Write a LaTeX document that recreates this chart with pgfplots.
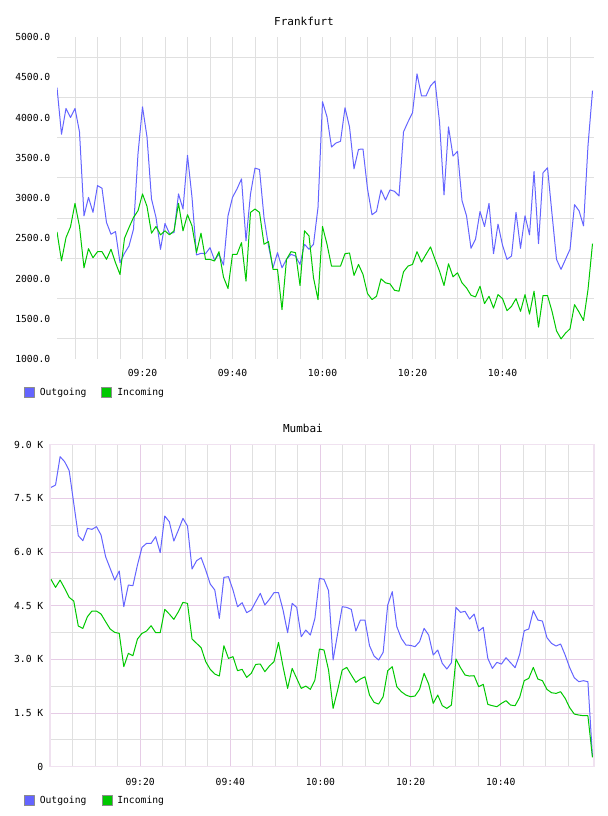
\documentclass[border=0pt]{standalone}
\usepackage{pgfplots}
\pgfplotsset{compat=1.18}
\usepackage{pgfplotstable}
\usepackage{fontspec}
\setmainfont{DejaVu Sans Mono}

\definecolor{outcol}{RGB}{100,100,255}
\definecolor{incol}{RGB}{0,200,0}
\definecolor{gridgray}{RGB}{224,224,224}
\definecolor{gridpink}{RGB}{230,204,230}
\definecolor{framepink}{RGB}{240,226,240}
\definecolor{boxgray}{RGB}{140,140,140}

% Frankfurt: one sample per minute, t = minutes after 09:00
\pgfplotstableread{
t v
1 4371
2 3792
3 4113
4 4000
5 4113
6 3821
7 2779
8 3008
9 2821
10 3154
11 3121
12 2696
13 2550
14 2583
15 2196
16 2313
17 2404
18 2613
19 3550
20 4133
21 3758
22 2988
23 2758
24 2363
25 2683
26 2558
27 2571
28 3050
29 2863
30 3529
31 3008
32 2292
33 2313
34 2308
35 2383
36 2229
37 2300
38 2167
39 2779
40 3008
41 3113
42 3238
43 2467
44 3050
45 3371
46 3354
47 2758
48 2404
49 2133
50 2321
51 2133
52 2238
53 2300
54 2279
55 2175
56 2425
57 2363
58 2425
59 2883
60 4196
61 4008
62 3633
63 3683
64 3704
65 4121
66 3883
67 3363
68 3604
69 3608
70 3113
71 2792
72 2833
73 3100
74 2975
75 3100
76 3083
77 3025
78 3821
79 3946
80 4058
81 4542
82 4267
83 4267
84 4392
85 4454
86 3946
87 3038
88 3883
89 3521
90 3579
91 2967
92 2779
93 2375
94 2488
95 2833
96 2646
97 2933
98 2308
99 2675
100 2413
101 2238
102 2279
103 2821
104 2375
105 2779
106 2542
107 3329
108 2433
109 3313
110 3375
111 2800
112 2238
113 2113
114 2238
115 2363
116 2917
117 2842
118 2654
119 3654
120 4333
}\fraOut

\pgfplotstableread{
t v
1 2579
2 2220
3 2508
4 2642
5 2933
6 2646
7 2133
8 2371
9 2258
10 2333
11 2333
12 2238
13 2363
14 2196
15 2050
16 2500
17 2633
18 2758
19 2842
20 3050
21 2896
22 2563
23 2646
24 2542
25 2592
26 2542
27 2592
28 2933
29 2592
30 2792
31 2654
32 2321
33 2563
34 2238
35 2238
36 2217
37 2333
38 2017
39 1875
40 2300
41 2300
42 2446
43 1967
44 2821
45 2863
46 2821
47 2425
48 2458
49 2113
50 2113
51 1613
52 2238
53 2333
54 2321
55 1913
56 2592
57 2529
58 2008
59 1738
60 2646
61 2425
62 2154
63 2154
64 2154
65 2308
66 2317
67 2038
68 2175
69 2050
70 1813
71 1738
72 1779
73 1996
74 1946
75 1933
76 1854
77 1842
78 2083
79 2154
80 2175
81 2333
82 2204
83 2300
84 2392
85 2238
86 2092
87 1913
88 2183
89 2021
90 2071
91 1946
92 1883
93 1792
94 1771
95 1904
96 1688
97 1779
98 1633
99 1800
100 1750
101 1600
102 1654
103 1750
104 1592
105 1800
106 1558
107 1842
108 1396
109 1788
110 1788
111 1592
112 1350
113 1250
114 1321
115 1375
116 1675
117 1583
118 1479
119 1863
120 2433
}\fraIn

% Mumbai: sample index k (0..119)
\pgfplotstableread{
k v
0 7807
1 7873
2 8665
3 8525
4 8273
5 7360
6 6457
7 6317
8 6661
9 6634
10 6708
11 6475
12 5870
13 5543
14 5217
15 5469
16 4472
17 5078
18 5059
19 5637
20 6130
21 6242
22 6242
23 6428
24 5981
25 7006
26 6848
27 6307
28 6615
29 6941
30 6727
31 5525
32 5758
33 5842
34 5497
35 5106
36 4938
37 4146
38 5292
39 5311
40 4938
41 4472
42 4584
43 4304
44 4379
45 4612
46 4845
47 4519
48 4677
49 4863
50 4863
51 4379
52 3745
53 4565
54 4453
55 3633
56 3820
57 3680
58 4146
59 5264
60 5236
61 4919
62 2981
63 3727
64 4472
65 4453
66 4397
67 3792
68 4099
69 4099
70 3382
71 3093
72 2981
73 3196
74 4519
75 4891
76 3913
77 3587
78 3401
79 3391
80 3354
81 3494
82 3866
83 3680
84 3121
85 3261
86 2888
87 2730
88 2907
89 4453
90 4314
91 4342
92 4127
93 4267
94 3792
95 3894
96 3028
97 2748
98 2916
99 2869
100 3047
101 2907
102 2767
103 3140
104 3801
105 3848
106 4360
107 4099
108 4071
109 3606
110 3447
111 3373
112 3429
113 3121
114 2767
115 2488
116 2376
117 2404
118 2376
119 279
}\mumOut

\pgfplotstableread{
k v
0 5236
1 5012
2 5217
3 4984
4 4733
5 4630
6 3931
7 3866
8 4192
9 4351
10 4351
11 4267
12 4053
13 3848
14 3755
15 3727
16 2795
17 3168
18 3102
19 3568
20 3727
21 3792
22 3941
23 3745
24 3745
25 4397
26 4267
27 4118
28 4332
29 4593
30 4565
31 3568
32 3447
33 3326
34 2935
35 2721
36 2590
37 2534
38 3382
39 3028
40 3075
41 2683
42 2721
43 2497
44 2609
45 2860
46 2869
47 2655
48 2814
49 2935
50 3475
51 2795
52 2189
53 2748
54 2469
55 2189
56 2254
57 2161
58 2422
59 3289
60 3261
61 2702
62 1630
63 2142
64 2702
65 2776
66 2562
67 2357
68 2450
69 2515
70 2003
71 1798
72 1751
73 1956
74 2683
75 2795
76 2236
77 2096
78 2003
79 1956
80 1975
81 2161
82 2609
83 2310
84 1770
85 2003
86 1705
87 1630
88 1723
89 3009
90 2767
91 2562
92 2534
93 2543
94 2236
95 2301
96 1742
97 1705
98 1677
99 1770
100 1845
101 1723
102 1705
103 1938
104 2404
105 2469
106 2776
107 2450
108 2404
109 2161
110 2068
111 2049
112 2096
113 1910
114 1649
115 1472
116 1444
117 1425
118 1425
119 261
}\mumIn

\pgfplotsset{
  trafficaxis/.style={
    scale only axis,
    major tick length=0pt, minor tick length=0pt,
    tick label style={font=\fontsize{9.7bp}{11bp}\selectfont, inner sep=0pt},
    yticklabel style={anchor=east, xshift=-6.5bp},
    title style={font=\fontsize{11bp}{13bp}\selectfont, anchor=center,
      inner sep=0pt, yshift=-6.5bp},
    legend columns=-1,
    legend cell align=left,
    legend style={draw=none, fill=none, inner sep=0pt, outer sep=0pt,
      font=\fontsize{9.7bp}{11bp}\selectfont,
      nodes={inner sep=0pt},
      /tikz/every odd column/.append style={column sep=5bp},
      /tikz/every even column/.append style={column sep=15bp}},
    every axis plot/.append style={line width=1bp, mark=none, line join=round},
  },
  outstyle/.style={outcol, legend image code/.code={%
      \draw[draw=boxgray, line width=0.8bp, fill=outcol] (0bp,-5bp) rectangle (10bp,5bp);}},
  instyle/.style={incol, legend image code/.code={%
      \draw[draw=boxgray, line width=0.8bp, fill=incol] (0bp,-5bp) rectangle (10bp,5bp);}},
}

\begin{document}
\begin{tikzpicture}
\useasboundingbox (0bp,0bp) rectangle (608bp,816bp);

% Frankfurt
\begin{axis}[trafficaxis,
  at={(57bp,457bp)}, anchor=south west,
  width=537bp, height=322bp,
  xmin=1, xmax=120.33, ymin=1000, ymax=5000,
  axis line style={draw=none},
  xtick={20,40,60,80,100},
  xticklabels={09:20,09:40,10:00,10:20,10:40},
  xticklabel style={anchor=base, yshift=-18bp},
  minor xtick={5,10,...,115},
  xmajorgrids, xminorgrids,
  ytick={1000,1500,...,5000},
  yticklabels={1000.0,1500.0,2000.0,2500.0,3000.0,3500.0,4000.0,4500.0,5000.0},
  minor ytick={1250,1750,...,4750}, yminorgrids,
  grid style={gridgray, line width=1bp},
  minor grid style={gridgray, line width=1bp},
  title={Frankfurt}, title style={at={(0.46,1.0506)}},
  legend style={at={(-0.0615,-0.1045)}, anchor=west},
]
\addplot[outstyle] table[x=t, y=v] {\fraOut};
\addlegendentry{Outgoing}
\addplot[instyle] table[x=t, y=v] {\fraIn};
\addlegendentry{Incoming}
\end{axis}

% Mumbai
\begin{axis}[trafficaxis,
  at={(50bp,49.3bp)}, anchor=south west,
  width=544bp, height=322bp,
  xmin=-0.22, xmax=119.34, ymin=0, ymax=9000,
  axis line style={framepink, line width=1.5bp},
  xtick={19.5934,39.4066,59.2198,79.0330,98.8462},
  xticklabels={09:20,09:40,10:00,10:20,10:40},
  xticklabel style={anchor=base, yshift=-18.5bp},
  minor xtick={4.7335,9.6868,14.6401,24.5467,29.5000,34.4533,44.3599,49.3132,54.2665,64.1731,69.1264,74.0797,83.9863,88.9396,93.8929,103.7995,108.7528,113.7061},
  xmajorgrids, xminorgrids,
  ytick={0,1500,...,9000},
  yticklabels={0,1.5 K,3.0 K,4.5 K,6.0 K,7.5 K,9.0 K},
  minor ytick={750,2250,...,8250},
  ymajorgrids, yminorgrids,
  grid style={gridpink, line width=1bp},
  minor grid style={gridgray, line width=1bp},
  title={Mumbai}, title style={at={(0.465,1.052)}},
  legend style={at={(-0.0478,-0.1055)}, anchor=west},
]
\addplot[outstyle] table[x=k, y=v] {\mumOut};
\addlegendentry{Outgoing}
\addplot[instyle] table[x=k, y=v] {\mumIn};
\addlegendentry{Incoming}
\end{axis}
\end{tikzpicture}
\end{document}
